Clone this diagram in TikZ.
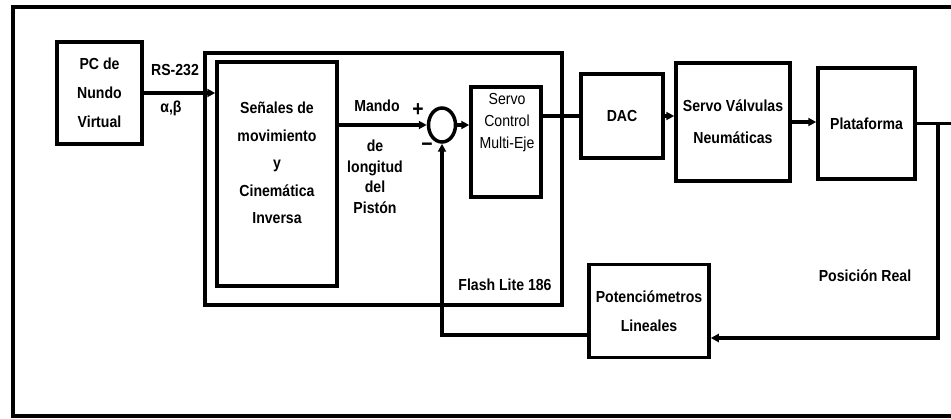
\documentclass[tikz,border=0pt]{standalone}
\usepackage{fontspec}
\setmainfont[FakeStretch=0.88]{Liberation Sans}
\usetikzlibrary{arrows.meta,shapes.geometric}

\begin{document}
\begin{tikzpicture}[x=1pt, y=-1pt, line width=3.5pt,
    >={Triangle[length=8pt,width=8pt]},
    blk/.style={draw, inner sep=0pt, align=center},
    txt/.style={font=\fontsize{16}{#1}\selectfont\bfseries, align=center, inner sep=0pt},
    txt/.default=28,
    sum/.style={draw, ellipse, minimum width=27pt, minimum height=34pt, inner sep=0pt}]
    % page and outer frame
    \useasboundingbox (0,0) rectangle (951,419);
    \clip (0,0) rectangle (951,419);
    \fill[white] (0,0) rectangle (951,419);
    \draw (13,7) rectangle (975,416);
    % blocks
    \node[blk, txt=29, minimum width=85pt, minimum height=102pt] (pc) at (99.5,93) {PC de\\Nundo\\Virtual};
    \node[blk, minimum width=357pt, minimum height=252pt] (flash) at (383.5,179) {};
    \node[blk, minimum width=120pt, minimum height=224pt] (senales) at (277,174) {};
    \node[txt=27.5] (senalestxt) at (277,163) {Señales de\\movimiento\\y\\Cinemática\\Inversa};
    \node[sum] (suma) at (442,125) {};
    \node[blk, minimum width=70pt, minimum height=110pt] (servo) at (506,142) {};
    \node[txt, font=\fontsize{16}{22}\selectfont] (servotxt) at (507,123) {Servo\\Control\\Multi-Eje};
    \node[blk, txt, minimum width=82pt, minimum height=84pt] (dac) at (622,116) {DAC};
    \node[blk, txt=32, minimum width=114pt, minimum height=118pt] (valv) at (733,122) {Servo Válvulas\\Neumáticas};
    \node[blk, txt, minimum width=97pt, minimum height=111pt] (plat) at (866.5,123.5) {Plataforma};
    \node[blk, txt=29, minimum width=120pt, minimum height=93pt] (pot) at (649,311) {Potenciómetros\\Lineales};
    % labels
    \node[txt] (rs) at (175,70) {RS-232};
    \node[txt] (ang) at (171,108) {α,β};
    \node[txt] (mando) at (377,106) {Mando};
    \node[txt=20.5] (longitud) at (375,177) {de\\longitud\\del\\Pistón};
    \node[txt, font=\fontsize{22}{22}\selectfont\bfseries] (mas) at (418,110) {+};
    \node[txt, font=\fontsize{22}{22}\selectfont\bfseries] (menos) at (427,147) {−};
    \node[txt] (flashtxt) at (505,285) {Flash Lite 186};
    \node[txt] (posreal) at (865,276) {Posición Real};
    % connectors
    \coordinate (salida) at (960,123.5);
    \coordinate (rama) at (938,123.5);
    \draw[->] (pc.east) -- (pc.east -| senales.west);
    \draw[->] (suma.west -| senales.east) -- (suma.west);
    \draw[->] (suma.east) -- (suma.east -| servo.west);
    \draw (dac.west -| servo.east) -- (dac.west);
    \draw[->] (dac.east) -- (dac.east -| valv.west);
    \draw[->] (valv.east) -- (valv.east -| plat.west);
    \draw (plat.east) -- (salida);
    \draw[->] (rama) |- ([yshift=-27pt]pot.east);
    \draw[->] ([yshift=-24pt]pot.west) -| (suma.south);
\end{tikzpicture}
\end{document}
